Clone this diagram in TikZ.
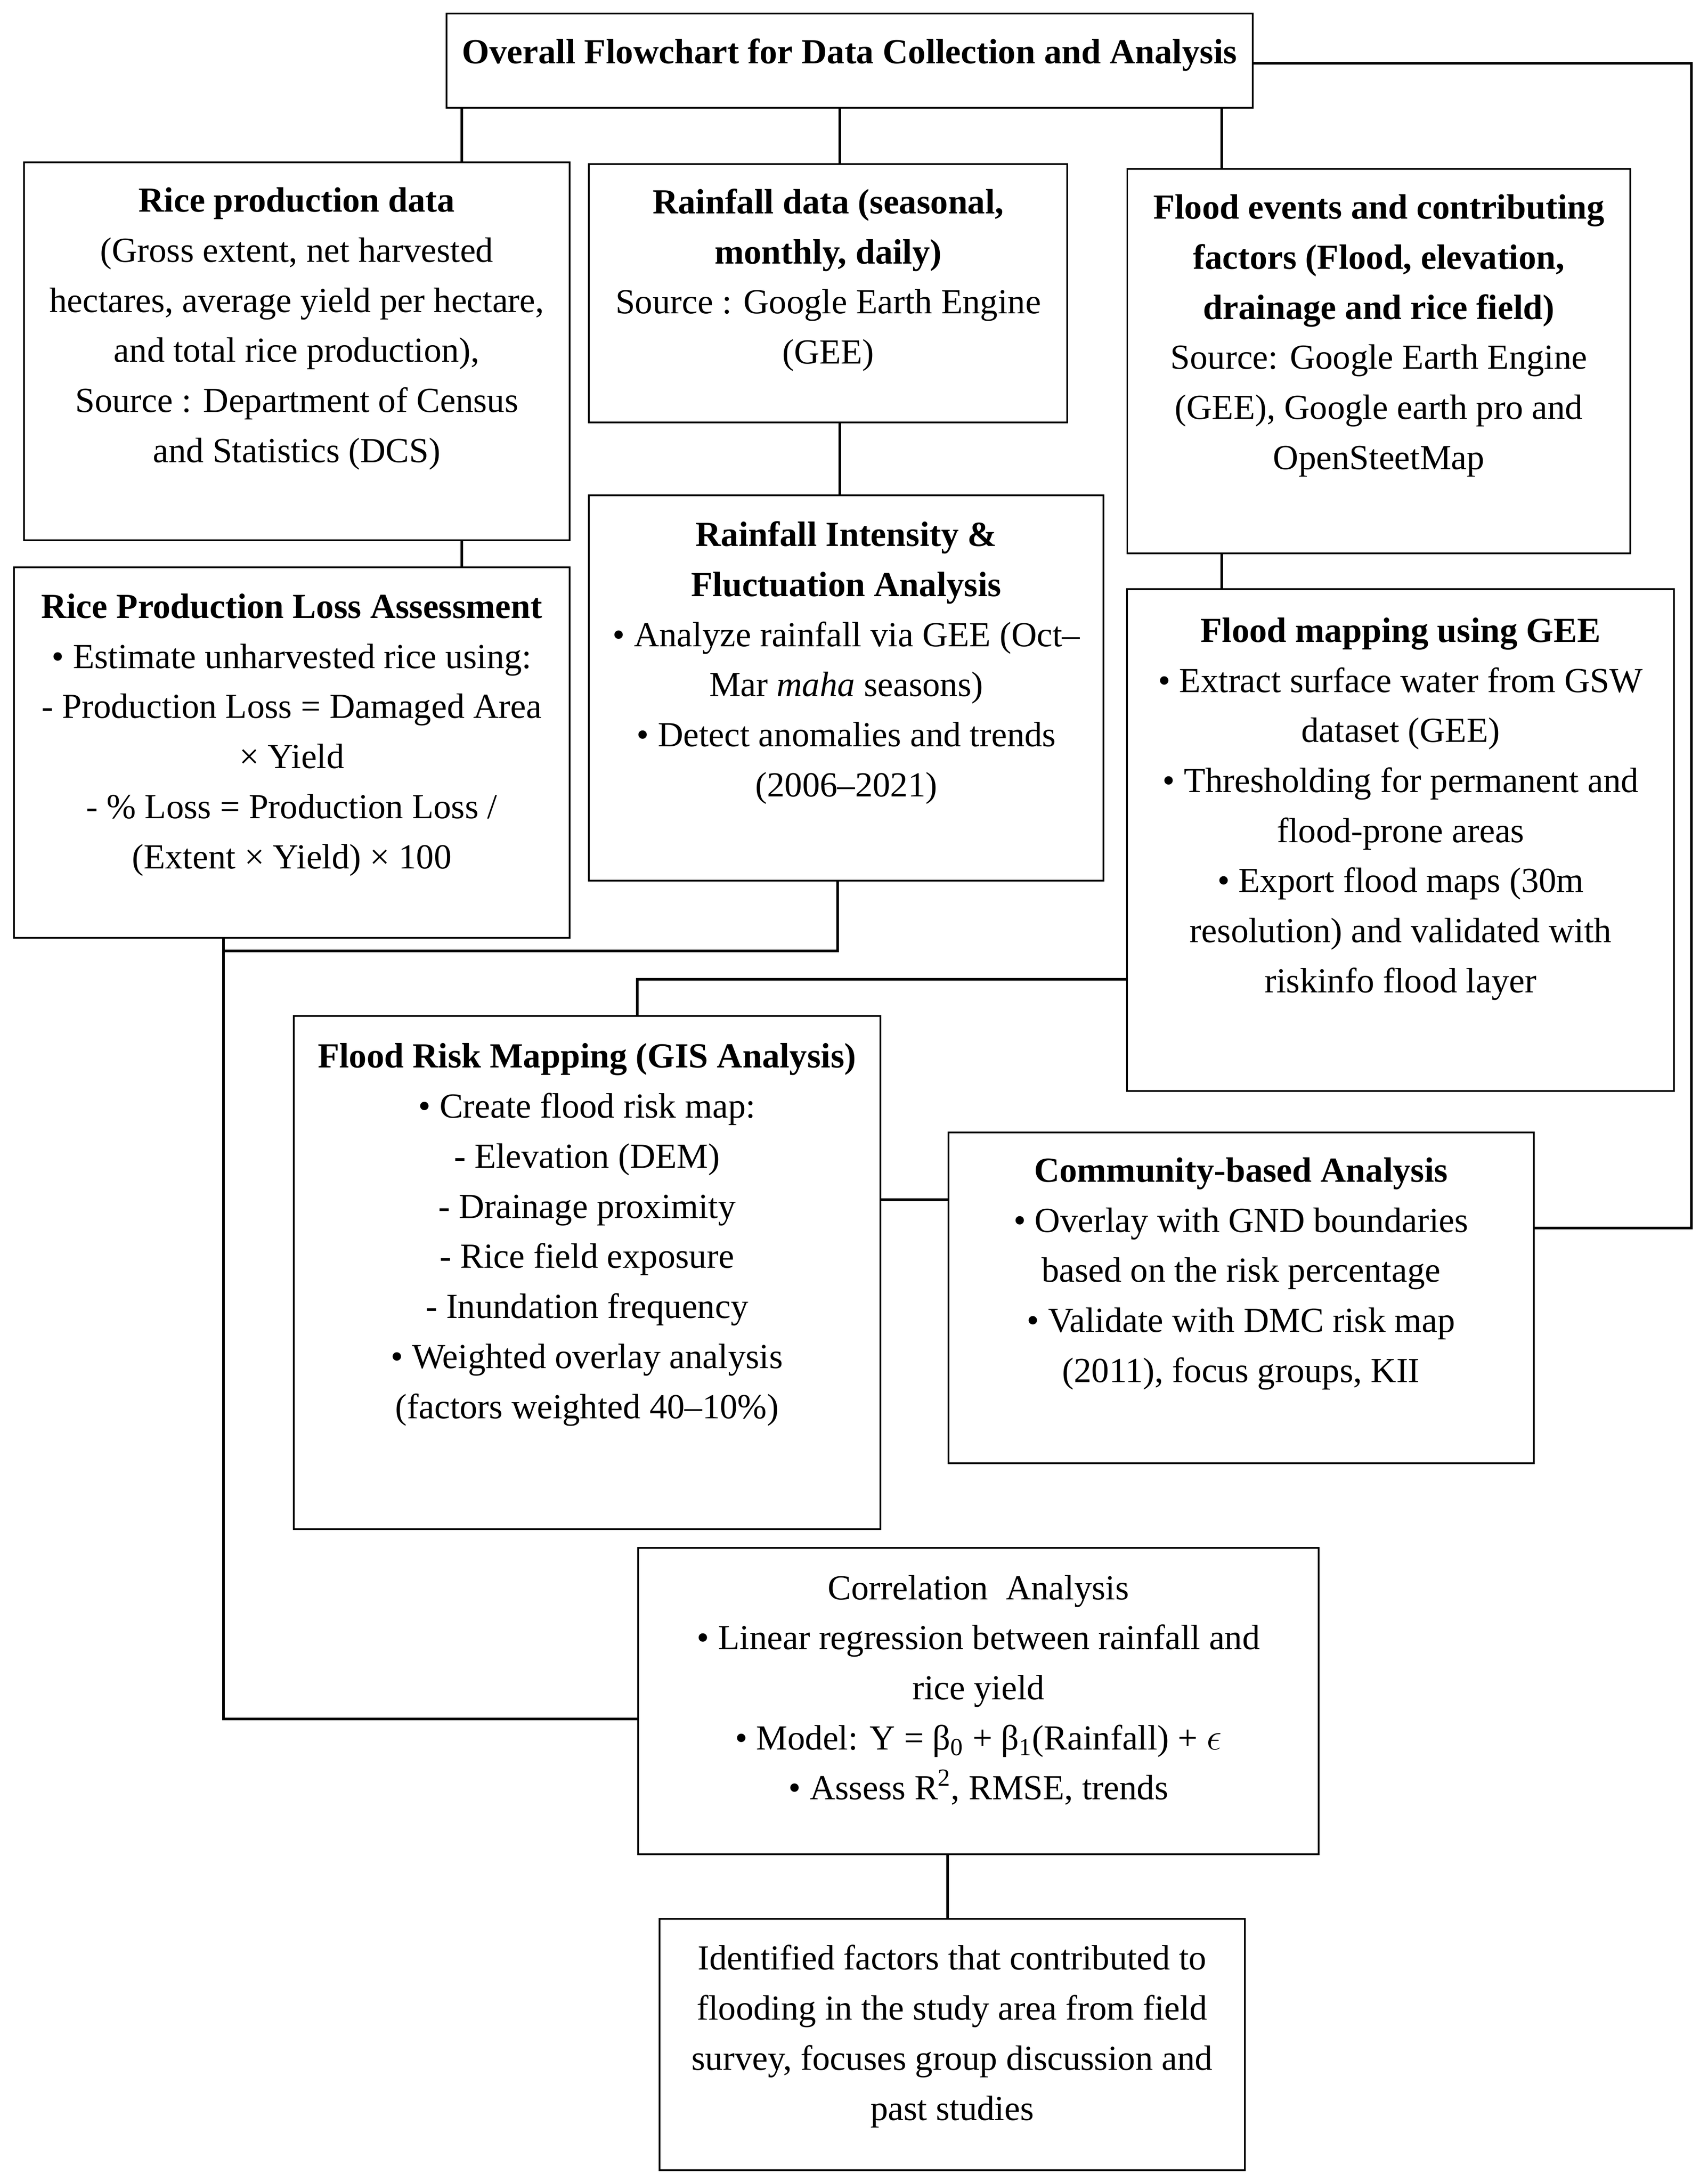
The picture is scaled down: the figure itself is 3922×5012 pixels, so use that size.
\documentclass[tikz,border=0pt]{standalone}
\usepackage{fontspec}
\setmainfont{Liberation Serif}
\usetikzlibrary{calc}
\begin{document}
\begin{tikzpicture}[x=0.01cm,y=-0.01cm,
  box/.style={draw=black, line width=0.04cm, inner sep=0pt, outer sep=0pt, rectangle},
  txt/.style={anchor=north, align=center, inner sep=0pt, font=\fontsize{23}{32.7}\selectfont},
  link/.style={draw=black, line width=0.06cm}]
\path[fill=white] (0,0) rectangle (3922,5012);
\useasboundingbox (0,0) rectangle (3922,5012);

% boxes
\node[box, minimum width=18.51cm, minimum height=2.155cm] (top) at (1951,139.3) {};
\node[box, minimum width=12.53cm, minimum height=8.68cm] (rice) at (681.5,807) {};
\node[box, minimum width=10.98cm, minimum height=5.93cm] (rain) at (1902,673.5) {};
\node[box, minimum width=11.55cm, minimum height=8.83cm] (flood) at (3166.5,829.5) {};
\node[box, minimum width=12.755cm, minimum height=8.50cm] (loss) at (670,1728.6) {};
\node[box, minimum width=11.81cm, minimum height=8.845cm] (inten) at (1943.5,1580) {};
\node[box, minimum width=12.55cm, minimum height=11.526cm] (fmap) at (3216.5,1929.7) {};
\node[box, minimum width=13.46cm, minimum height=11.785cm] (frisk) at (1348,2923) {};
\node[box, minimum width=13.43cm, minimum height=7.60cm] (comm) at (2850,2981) {};
\node[box, minimum width=15.615cm, minimum height=7.03cm] (corr) at (2247,3907.5) {};
\node[box, minimum width=13.43cm, minimum height=5.77cm] (ident) at (2186.5,4696.5) {};

% texts
\node[txt] (ttop) at (1951,88) {\textbf{Overall Flowchart for Data Collection and Analysis}};
\node[txt] (trice) at (681.5,430) {\textbf{Rice production data}\\(Gross extent, net harvested\\hectares, average yield per hectare,\\and total rice production),\\Source : Department of Census\\and Statistics (DCS)};
\node[txt] (train) at (1902,433) {\textbf{Rainfall data (seasonal,}\\\textbf{monthly, daily)}\\Source : Google Earth Engine\\(GEE)};
\node[txt] (tflood) at (3166.5,446) {\textbf{Flood events and contributing}\\\textbf{factors (Flood, elevation,}\\\textbf{drainage and rice field)}\\Source: Google Earth Engine\\(GEE), Google earth pro and\\OpenSteetMap};
\node[txt] (tloss) at (670,1363) {\textbf{Rice Production Loss Assessment}\\• Estimate unharvested rice using:\\- Production Loss = Damaged Area\\× Yield\\- \% Loss = Production Loss /\\(Extent × Yield) × 100};
\node[txt] (tinten) at (1943.5,1197) {\textbf{Rainfall Intensity \&}\\\textbf{Fluctuation Analysis}\\• Analyze rainfall via GEE (Oct--\\Mar \textit{maha} seasons)\\• Detect anomalies and trends\\(2006--2021)};
\node[txt] (tfmap) at (3216.5,1418) {\textbf{Flood mapping using GEE}\\• Extract surface water from GSW\\dataset (GEE)\\• Thresholding for permanent and\\flood-prone areas\\• Export flood maps (30m\\resolution) and validated with\\riskinfo flood layer};
\node[txt] (tfrisk) at (1348,2396) {\textbf{Flood Risk Mapping (GIS Analysis)}\\• Create flood risk map:\\- Elevation (DEM)\\- Drainage proximity\\- Rice field exposure\\- Inundation frequency\\• Weighted overlay analysis\\(factors weighted 40--10\%)};
\node[txt] (tcomm) at (2850,2658) {\textbf{Community-based Analysis}\\• Overlay with GND boundaries\\based on the risk percentage\\• Validate with DMC risk map\\(2011), focus groups, KII};
\node[txt] (tcorr) at (2247,3617) {Correlation\ \ Analysis\\• Linear regression between rainfall and\\rice yield\\• Model: Y = β\textsubscript{0} + β\textsubscript{1}(Rainfall) + $\epsilon$\\• Assess R\textsuperscript{2}, RMSE, trends};
\node[txt] (tident) at (2186.5,4467) {Identified factors that contributed to\\flooding in the study area from field\\survey, focuses group discussion and\\past studies};

% connector guide coordinates
\coordinate (xa) at (1060.5,0);
\coordinate (xb) at (1928.5,0);
\coordinate (xc) at (2806,0);
\coordinate (xr) at (3884,0);
\coordinate (xl) at (513,0);
\coordinate (xi) at (1923.5,0);
\coordinate (xm) at (1463,0);
\coordinate (xd) at (2176,0);
\coordinate (yt) at (0,145);
\coordinate (yq) at (0,2820.5);
\coordinate (yj) at (0,2184);
\coordinate (ym) at (0,2249);
\coordinate (yk) at (0,2755.5);
\coordinate (yc) at (0,3948);

% connectors
\draw[link] (top.south -| xa) -- (rice.north -| xa);
\draw[link] (top.south -| xb) -- (rain.north -| xb);
\draw[link] (top.south -| xc) -- (flood.north -| xc);
\draw[link] (top.east |- yt) -- (xr |- yt) -- (xr |- yq) -- (comm.east |- yq);
\draw[link] (rice.south -| xa) -- (loss.north -| xa);
\draw[link] (rain.south -| xb) -- (inten.north -| xb);
\draw[link] (flood.south -| xc) -- (fmap.north -| xc);
\draw[link] (inten.south -| xi) -- (xi |- yj) -- (xl |- yj);
\draw[link] (loss.south -| xl) -- (xl |- yc) -- (corr.west |- yc);
\draw[link] (fmap.west |- ym) -- (xm |- ym) -- (frisk.north -| xm);
\draw[link] (frisk.east |- yk) -- (comm.west |- yk);
\draw[link] (corr.south -| xd) -- (ident.north -| xd);
\end{tikzpicture}
\end{document}
